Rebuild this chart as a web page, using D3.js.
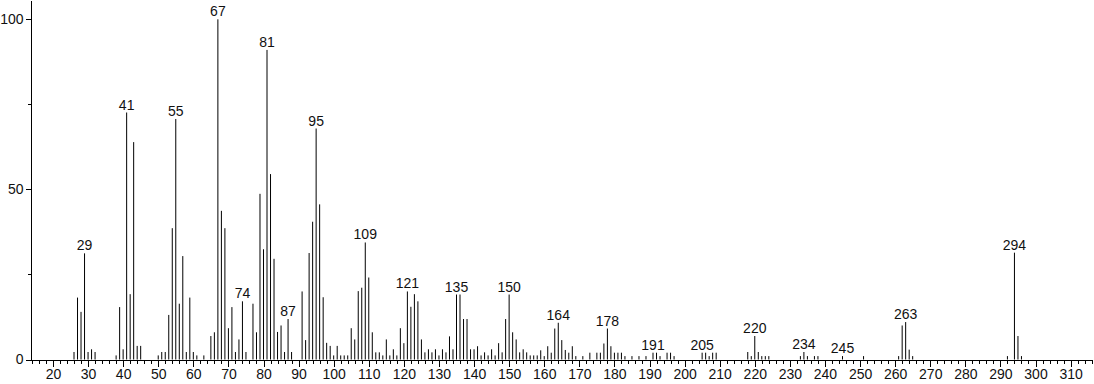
<!DOCTYPE html>
<html>
<head>
<meta charset="utf-8">
<script src="https://cdn.jsdelivr.net/npm/d3@7"></script>
<style>
body{margin:0;background:#fff;}
svg{display:block;font-family:"Liberation Sans",Arial,sans-serif;}
.axis text{font-size:14px;fill:#111;font-family:"Liberation Sans",Arial,sans-serif;}
.axis path,.axis line{stroke:#000;shape-rendering:crispEdges;}
.peak{stroke:#000;stroke-width:1;}
.plabel{font-size:14px;fill:#111;text-anchor:middle;}
</style>
</head>
<body>
<div id="chart"></div>
<script>
// m/z and relative abundance
var mz=[26,27,28,29,30,31,32,38,39,40,41,42,43,44,45,50,51,52,53,54,55,56,57,58,59,60,61,63,
    65,66,67,68,69,70,71,72,73,74,75,77,78,79,80,81,82,83,84,85,86,87,88,91,92,93,94,95,96,97,98,99,
    100,101,102,103,104,105,106,107,108,109,110,111,112,113,114,115,116,117,118,119,120,121,122,123,124,
    125,126,127,128,129,130,131,132,133,134,135,136,137,138,139,140,141,142,143,144,145,146,147,148,149,
    150,151,152,153,154,155,156,157,158,159,160,161,162,163,164,165,166,167,168,169,171,173,175,176,177,
    178,179,180,181,182,183,185,187,189,191,192,193,195,196,197,205,206,207,208,209,218,219,220,221,222,
    223,224,233,234,235,237,238,245,251,261,262,263,264,265,292,294,295,296];
var abundance=[2.2,18.2,14,31.2,2.2,3,2.2,1.2,15.4,3,72.6,19.2,63.9,4,4,1.2,2.2,2.2,13.1,38.6,70.7,16.4,30.4,2.2,18.2,2.2,1.2,1.2,
    6.9,8,100,43.7,38.6,9.2,15.4,2.2,5.9,17.1,2.2,16.4,8,48.7,32.4,91,54.5,29.6,8.1,10,2.2,11.9,2.2,20,5.7,31.3,40.5,67.9,45.6,18.3,4.9,4,
    1.2,4,1.2,1.2,1.2,9.2,5.9,20.1,21.1,34.4,24.1,8,2.1,2.1,1.2,5.9,1.2,3,1.2,9.2,4.8,20,15.5,19.2,17.1,
    5.9,2.1,3,2.1,3,1.2,3,2.1,6.8,3,19.1,19.1,11.9,11.9,3,3,3.9,1.2,2.1,1.2,3,1.2,4.8,2.1,11.9,
    19.1,8,5.9,2.1,3,2.1,1.2,1.2,1.2,2.7,1,3.9,2,9.1,10.8,5.7,2.8,2,3.9,1,1,2,2,2,4.7,
    9.1,3.9,2,2,2,1,1,1,1,2,2,1,2,2,1,2,2,1,2,2,2.2,1,6.9,2.2,1,
    1,1,1,2.2,1,1,1,1,1,1,10,11,2.9,1,1,31.4,6.9,1];
var labelled=[29,41,55,67,74,81,87,95,109,121,135,150,164,178,191,205,220,234,245,263,294];
var xMajor=d3.range(20,311,10);
var xMinor=d3.range(14,317,2).filter(function(d){return d%10!==0;});
var yMajor=[0,50,100];
var yMinor=[25,75];

var width=1094,height=384;
var svg=d3.select('#chart')
    .append('svg')
    .attr('width',width)
    .attr('height',height);

var x=d3.scaleLinear()
    .domain([13.6,316.1])
    .range([30.5,1092]);
var y=d3.scaleLinear()
    .domain([0,100])
    .range([359.5,19.3]);

var data=mz.map(function(m,i){return {m:m,v:abundance[i]};});

// x axis: minor ticks every 2, labelled every 10
svg.append('g')
    .attr('class','axis')
    .attr('transform','translate(0,'+y(0)+')')
    .call(d3.axisBottom(x).tickValues(xMinor).tickSize(4).tickSizeOuter(0).tickFormat(''));
svg.append('g')
    .attr('class','axis')
    .attr('transform','translate(0,'+y(0)+')')
    .call(d3.axisBottom(x).tickValues(xMajor).tickSize(7).tickSizeOuter(0).tickPadding(3));

// y axis, line runs up to the top edge
var yTop=0;
svg.append('g')
    .attr('class','axis')
    .attr('transform','translate('+x.range()[0]+',0)')
    .call(d3.axisLeft(d3.scaleLinear().domain([0,(y(0)-yTop)/(y(0)-y(100))*100]).range([y(0),yTop]))
        .tickValues(yMinor).tickSize(3).tickSizeOuter(0).tickFormat(''));
svg.append('g')
    .attr('class','axis')
    .attr('transform','translate('+x.range()[0]+',0)')
    .call(d3.axisLeft(y).tickValues(yMajor).tickSize(5).tickSizeOuter(0).tickPadding(2));

svg.selectAll('.peak')
    .data(data)
    .enter()
    .append('line')
    .attr('class','peak')
    .attr('x1',function(d){return x(d.m);})
    .attr('x2',function(d){return x(d.m);})
    .attr('y1',y(0))
    .attr('y2',function(d){return y(d.v);});

svg.selectAll('.plabel')
    .data(data.filter(function(d){return labelled.indexOf(d.m)>=0;}))
    .enter()
    .append('text')
    .attr('class','plabel')
    .attr('x',function(d){return x(d.m);})
    .attr('y',function(d){return y(d.v)-3;})
    .text(function(d){return d.m;});
</script>
</body>
</html>
